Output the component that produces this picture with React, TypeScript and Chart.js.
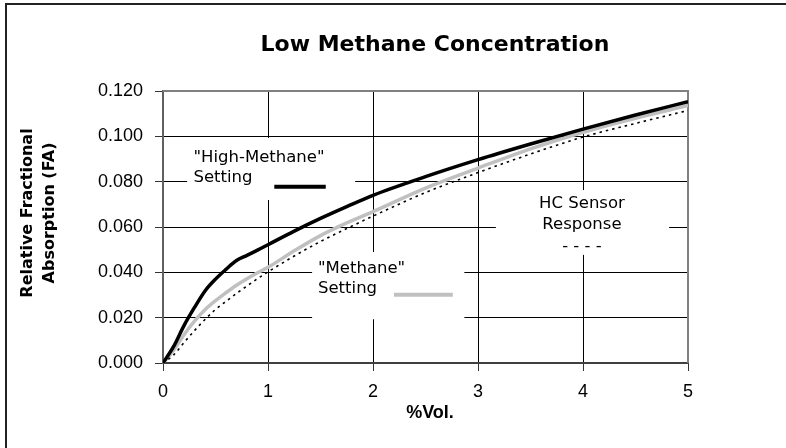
import React, { useEffect, useRef } from "react";
import { Chart, registerables } from "chart.js";

Chart.register(...registerables);

// ---- Data ----
const xValues = [0, 0.1, 0.2, 0.3, 0.4, 0.5, 0.6, 0.7, 0.8, 0.9, 1.0, 1.25, 1.5, 1.75, 2.0, 2.5, 3.0, 3.5, 4.0, 4.5, 5.0];
const highMethane = [0, 0.0072, 0.0165, 0.0245, 0.0318, 0.037, 0.0413, 0.0452, 0.0475, 0.0498, 0.0522, 0.0582, 0.0638, 0.069, 0.074, 0.0822, 0.0897, 0.0966, 0.1032, 0.1094, 0.1153];
const methane = [0, 0.0055, 0.0125, 0.0185, 0.0235, 0.0275, 0.031, 0.0343, 0.0372, 0.0398, 0.0422, 0.0495, 0.0562, 0.0618, 0.0668, 0.0772, 0.086, 0.0945, 0.1018, 0.108, 0.1136];
const hcSensor = [0, 0.0035, 0.009, 0.0143, 0.0192, 0.0236, 0.0272, 0.0307, 0.034, 0.0372, 0.0402, 0.0472, 0.0536, 0.0593, 0.0648, 0.0752, 0.084, 0.0922, 0.0997, 0.1057, 0.1114];

const xMin = 0;
const xMax = 5;
const xStep = 1;
const yMin = 0;
const yMax = 0.12;
const yStep = 0.02;

const titleText = "Low Methane Concentration";
const yTitleLines = ["Relative Fractional", "Absorption (FA)"];
const xTitleText = "%Vol.";
const highLabel = ['"High-Methane"', "Setting"];
const methaneLabel = ['"Methane"', "Setting"];
const hcLabel = ["HC Sensor", "Response", "- - - -"];

// ---- Annotation layout (data units) ----
const annoBoxes = [
  { x0: 0.23, x1: 1.83, y0: 0.0719, y1: 0.0993 },
  { x0: 1.42, x1: 2.87, y0: 0.0193, y1: 0.049 },
  { x0: 3.17, x1: 4.82, y0: 0.0477, y1: 0.0763 },
];

const SANS = "'DejaVu Sans', Verdana, sans-serif";
const ARIAL = "'Liberation Sans', Arial, sans-serif";

const decorPlugin = {
  id: "decor",
  beforeDraw(chart: any) {
    const { ctx, width, height } = chart;
    ctx.save();
    ctx.fillStyle = "#ffffff";
    ctx.fillRect(0, 0, width, height);
    // outer frame
    ctx.strokeStyle = "#222";
    ctx.lineWidth = 2;
    ctx.strokeRect(6, 4, width + 20, height + 20);
    // title
    ctx.fillStyle = "#000";
    ctx.font = `bold 22px ${SANS}`;
    ctx.textAlign = "center";
    ctx.textBaseline = "middle";
    ctx.fillText(titleText, 435, 45);
    // y title
    ctx.save();
    ctx.translate(0, 213);
    ctx.rotate(-Math.PI / 2);
    ctx.font = `bold 16px ${SANS}`;
    ctx.fillText(yTitleLines[0], 0, 28);
    ctx.fillText(yTitleLines[1], 0, 50);
    ctx.restore();
    // x title
    ctx.font = `bold 18px ${ARIAL}`;
    ctx.fillText(xTitleText, 430, 413);
    ctx.restore();
  },
  beforeDatasetsDraw(chart: any) {
    const { ctx, chartArea, scales } = chart;
    const sx = scales.x;
    const sy = scales.y;
    ctx.save();
    // top & right plot border
    ctx.strokeStyle = "#808080";
    ctx.lineWidth = 2;
    ctx.beginPath();
    ctx.moveTo(chartArea.left, chartArea.top);
    ctx.lineTo(chartArea.right, chartArea.top);
    ctx.lineTo(chartArea.right, chartArea.bottom);
    ctx.stroke();
    // white annotation boxes
    ctx.fillStyle = "#ffffff";
    for (const b of annoBoxes) {
      const l = sx.getPixelForValue(b.x0);
      const r = sx.getPixelForValue(b.x1);
      const t = sy.getPixelForValue(b.y1);
      const bt = sy.getPixelForValue(b.y0);
      ctx.fillRect(l, t, r - l, bt - t);
    }
    ctx.fillStyle = "#000";
    ctx.font = `16.5px ${SANS}`;
    ctx.textBaseline = "middle";
    // High-Methane label
    ctx.textAlign = "left";
    ctx.fillText(highLabel[0], sx.getPixelForValue(0.29), sy.getPixelForValue(0.0904));
    ctx.fillText(highLabel[1], sx.getPixelForValue(0.29), sy.getPixelForValue(0.0816));
    // Methane label
    ctx.fillText(methaneLabel[0], sx.getPixelForValue(1.476), sy.getPixelForValue(0.0415));
    ctx.fillText(methaneLabel[1], sx.getPixelForValue(1.476), sy.getPixelForValue(0.0327));
    // HC label
    ctx.textAlign = "center";
    ctx.fillText(hcLabel[0], sx.getPixelForValue(3.99), sy.getPixelForValue(0.0702));
    ctx.fillText(hcLabel[1], sx.getPixelForValue(3.99), sy.getPixelForValue(0.0609));
    ctx.fillText(hcLabel[2], sx.getPixelForValue(3.99), sy.getPixelForValue(0.0512));
    // legend samples
    ctx.lineWidth = 4;
    ctx.strokeStyle = "#000";
    ctx.beginPath();
    ctx.moveTo(sx.getPixelForValue(1.06), sy.getPixelForValue(0.0778));
    ctx.lineTo(sx.getPixelForValue(1.55), sy.getPixelForValue(0.0778));
    ctx.stroke();
    ctx.strokeStyle = "#c0c0c0";
    ctx.beginPath();
    ctx.moveTo(sx.getPixelForValue(2.2), sy.getPixelForValue(0.0301));
    ctx.lineTo(sx.getPixelForValue(2.76), sy.getPixelForValue(0.0301));
    ctx.stroke();
    ctx.restore();
  },
};

export default function App() {
  const canvasRef = useRef<HTMLCanvasElement | null>(null);

  useEffect(() => {
    document.body.style.margin = "0";
    const canvas = canvasRef.current;
    if (!canvas) return;
    const toPts = (ys: number[]) => xValues.map((x, i) => ({ x, y: ys[i] }));
    const chart = new Chart(canvas, {
      type: "line",
      data: {
        datasets: [
          {
            label: "HC Sensor Response",
            data: toPts(hcSensor),
            borderColor: "#000000",
            borderWidth: 1.6,
            borderDash: [2.5, 4],
            pointRadius: 0,
            cubicInterpolationMode: "monotone",
            fill: false,
          },
          {
            label: '"High-Methane" Setting',
            data: toPts(highMethane),
            borderColor: "#000000",
            borderWidth: 3.5,
            pointRadius: 0,
            cubicInterpolationMode: "monotone",
            fill: false,
          },
          {
            label: '"Methane" Setting',
            data: toPts(methane),
            borderColor: "#c0c0c0",
            borderWidth: 3.5,
            pointRadius: 0,
            cubicInterpolationMode: "monotone",
            fill: false,
          },
        ],
      },
      options: {
        responsive: false,
        animation: false,
        devicePixelRatio: 1,
        layout: { padding: { top: 91, right: 98, left: 0, bottom: 0 } },
        plugins: {
          legend: { display: false },
          title: { display: false },
          tooltip: { enabled: false },
        },
        scales: {
          x: {
            type: "linear",
            min: xMin,
            max: xMax,
            afterFit: (scale: any) => {
              scale.height = 85;
            },
            ticks: {
              stepSize: xStep,
              color: "#000",
              font: { family: ARIAL, size: 18 },
              padding: 10,
              maxRotation: 0,
              callback: (v: any) => String(v),
            },
            grid: {
              color: "#000",
              lineWidth: 1,
              tickLength: 8,
              tickColor: "#333",
            },
            border: { color: "#404040", width: 2 },
          },
          y: {
            type: "linear",
            min: yMin,
            max: yMax,
            afterFit: (scale: any) => {
              scale.width = 163;
            },
            ticks: {
              stepSize: yStep,
              color: "#000",
              font: { family: ARIAL, size: 18 },
              padding: 12,
              callback: (v: any) => Number(v).toFixed(3),
            },
            grid: {
              color: "#000",
              lineWidth: 1,
              tickLength: 8,
              tickColor: "#333",
            },
            border: { color: "#606060", width: 2 },
          },
        },
      },
      plugins: [decorPlugin],
    } as any);
    return () => chart.destroy();
  }, []);

  return (
    <div style={{ position: "absolute", left: 0, top: 0, width: 786, height: 448 }}>
      <canvas ref={canvasRef} width={786} height={448} style={{ width: 786, height: 448, display: "block" }} />
    </div>
  );
}
